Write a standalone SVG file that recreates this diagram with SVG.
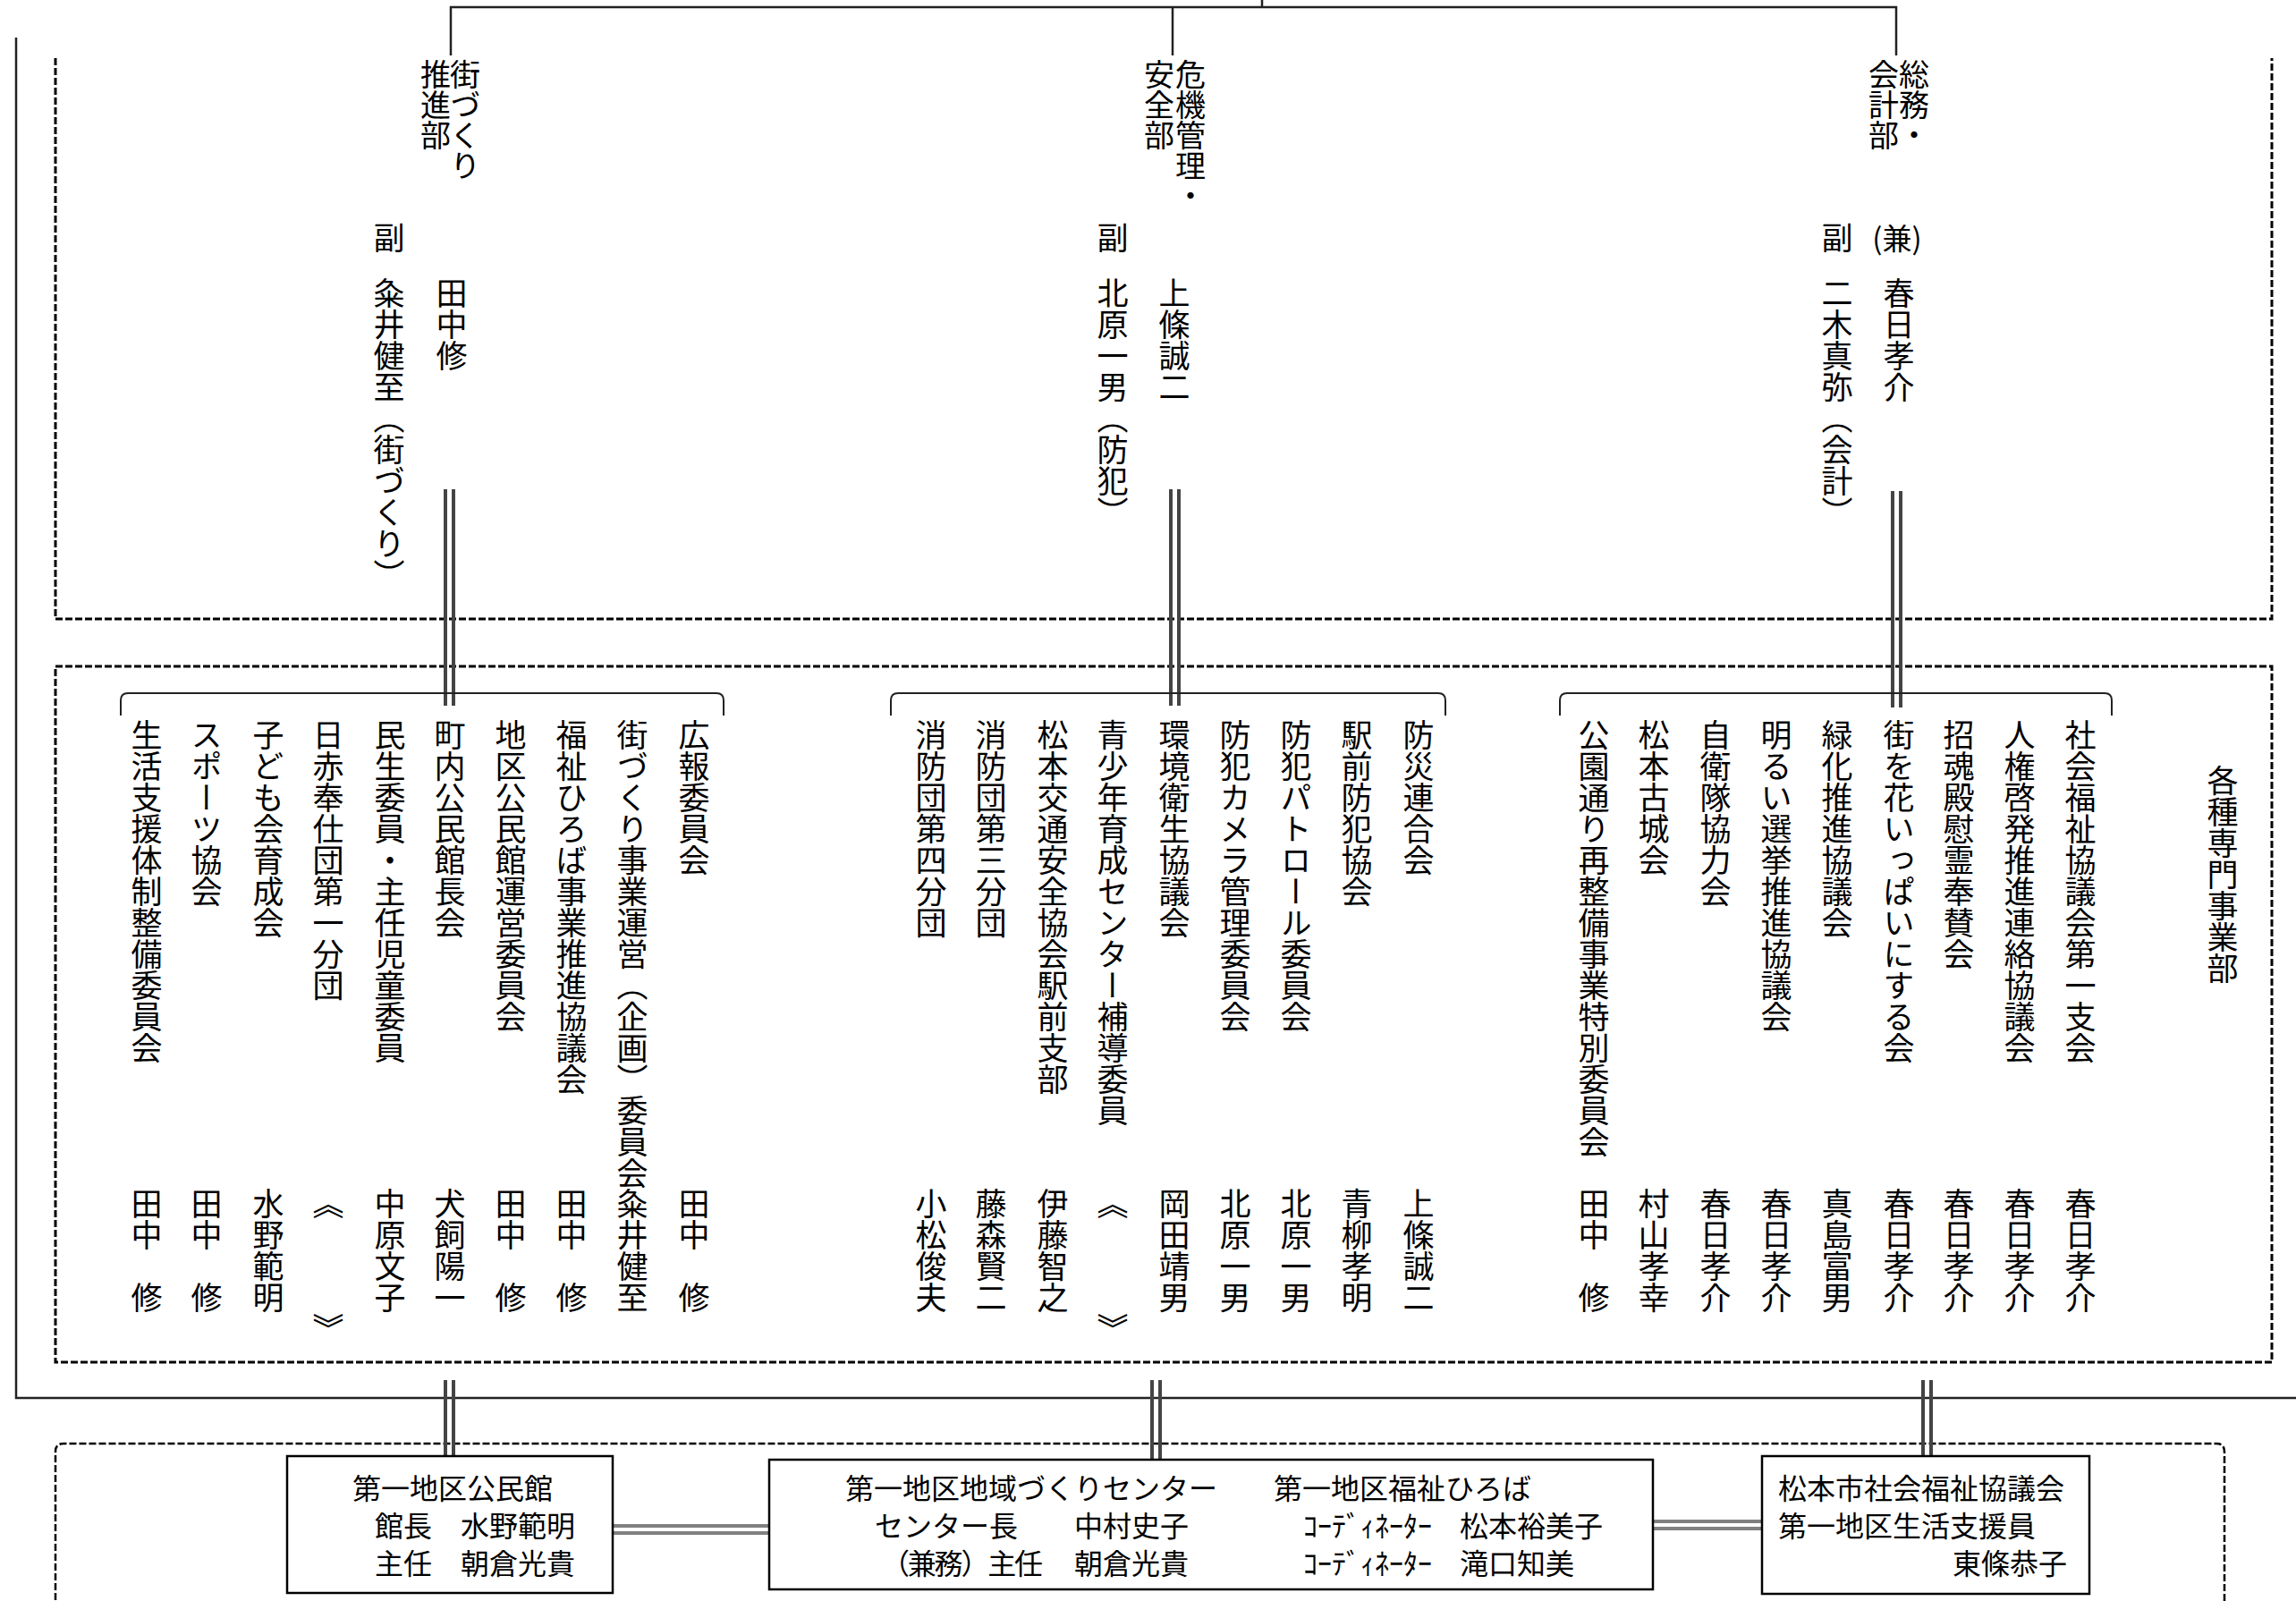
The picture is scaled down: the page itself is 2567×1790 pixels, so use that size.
<svg xmlns="http://www.w3.org/2000/svg" width="2567" height="1790" viewBox="0 0 2567 1790">
<style>
text { font-family: "Noto Sans CJK JP", "Noto Sans CJK SC", sans-serif; fill: #000; }
.v { font-size: 35px; writing-mode: vertical-rl; }
.hd { font-size: 34px; writing-mode: vertical-rl; }
.h { font-size: 32px; }
.dash { fill: none; stroke: #000; stroke-width: 3; stroke-dasharray: 8 3; }
.dash2 { fill: none; stroke: #000; stroke-width: 2.5; stroke-dasharray: 8 3; }
.ln { fill: none; stroke: #222; stroke-width: 2.5; }
.br { fill: none; stroke: #222; stroke-width: 2; }
.dbl { stroke: #444; stroke-width: 4; }
.hdbl { stroke: #808080; stroke-width: 4; }
.box { fill: #fff; stroke: #000; stroke-width: 2.5; }
</style>
<rect width="2567" height="1790" fill="#fff"/>

<g id="containers">
  <path class="dash" d="M62,65 V692 H2540 V65"/>
  <rect class="dash" x="62" y="745" width="2478" height="778"/>
  <path class="dash2" d="M62,1800 V1623 Q62,1614 71,1614 H2478 Q2487,1614 2487,1623 V1800"/>
</g>

<g id="connectors">
  <path class="ln" d="M504,62 V8 H2120 V62"/>
  <line class="ln" x1="1411" y1="0" x2="1411" y2="8"/>
  <line class="ln" x1="1311" y1="8" x2="1311" y2="62"/>
  <path class="ln" d="M18,42 V1563 H2567"/>
  <!-- upper double lines -->
  <line class="dbl" x1="498" y1="547" x2="498" y2="789"/>
  <line class="dbl" x1="507" y1="547" x2="507" y2="789"/>
  <line class="dbl" x1="1309" y1="547" x2="1309" y2="789"/>
  <line class="dbl" x1="1318" y1="547" x2="1318" y2="789"/>
  <line class="dbl" x1="2116" y1="549" x2="2116" y2="791"/>
  <line class="dbl" x1="2125" y1="549" x2="2125" y2="791"/>
  <!-- lower double lines -->
  <line class="dbl" x1="498" y1="1543" x2="498" y2="1641"/>
  <line class="dbl" x1="507" y1="1543" x2="507" y2="1641"/>
  <line class="dbl" x1="1288" y1="1543" x2="1288" y2="1648"/>
  <line class="dbl" x1="1297" y1="1543" x2="1297" y2="1648"/>
  <line class="dbl" x1="2150" y1="1543" x2="2150" y2="1644"/>
  <line class="dbl" x1="2159" y1="1543" x2="2159" y2="1644"/>
  <!-- horizontal double connectors -->
  <line class="hdbl" x1="686" y1="1706" x2="860" y2="1706"/>
  <line class="hdbl" x1="686" y1="1714" x2="860" y2="1714"/>
  <line class="hdbl" x1="1848" y1="1701" x2="1970" y2="1701"/>
  <line class="hdbl" x1="1848" y1="1709" x2="1970" y2="1709"/>
  <!-- list brackets -->
  <path class="br" d="M135,800 V783 Q135,775 143,775 H801 Q809,775 809,783 V800"/>
  <path class="br" d="M996,800 V783 Q996,775 1004,775 H1608 Q1616,775 1616,783 V800"/>
  <path class="br" d="M1744,800 V783 Q1744,775 1752,775 H2353 Q2361,775 2361,783 V800"/>
</g>

<g id="dept-machizukuri">
  <text class="hd" x="520" y="66">街づくり</text>
  <text class="hd" x="487" y="66">推進部</text>
  <text class="v" x="435" y="248">副</text>
  <text class="v" x="505" y="310">田中修</text>
  <text class="v" x="435" y="310">粂井健至（街づくり）</text>
</g>
<g id="dept-kiki">
  <text class="hd" x="1331" y="66">危機管理・</text>
  <text class="hd" x="1296" y="66">安全部</text>
  <text class="v" x="1244" y="248">副</text>
  <text class="v" x="1313" y="310">上條誠二</text>
  <text class="v" x="1244" y="310">北原一男（防犯）</text>
</g>
<g id="dept-somu">
  <text class="hd" x="2140" y="66">総務・</text>
  <text class="hd" x="2106" y="66">会計部</text>
  <text class="v" x="2054" y="248">副</text>
  <text class="h" x="2121" y="279" text-anchor="middle" style="font-size:33px">(兼)</text>
  <text class="v" x="2123" y="310">春日孝介</text>
  <text class="v" x="2054" y="310">二木真弥（会計）</text>
</g>

<g id="label-kakushu">
  <text class="v" x="2485" y="855">各種専門事業部</text>
</g>

<g id="group-a">
  <g id="a1"><text class="v" x="776" y="804">広報委員会</text><text class="v" x="776" y="1328">田中　修</text></g>
  <g id="a2"><text class="v" x="707" y="804">街づくり事業運営（企画）委員会</text><text class="v" x="707" y="1328">粂井健至</text></g>
  <g id="a3"><text class="v" x="639" y="804">福祉ひろば事業推進協議会</text><text class="v" x="639" y="1328">田中　修</text></g>
  <g id="a4"><text class="v" x="571" y="804">地区公民館運営委員会</text><text class="v" x="571" y="1328">田中　修</text></g>
  <g id="a5"><text class="v" x="503" y="804">町内公民館長会</text><text class="v" x="503" y="1328">犬飼陽一</text></g>
  <g id="a6"><text class="v" x="436" y="804">民生委員・主任児童委員</text><text class="v" x="436" y="1328">中原文子</text></g>
  <g id="a7"><text class="v" x="367" y="804">日赤奉仕団第一分団</text><text class="v" x="367" y="1328">《　　　》</text></g>
  <g id="a8"><text class="v" x="300" y="804">子ども会育成会</text><text class="v" x="300" y="1328">水野範明</text></g>
  <g id="a9"><text class="v" x="231" y="804">スポーツ協会</text><text class="v" x="231" y="1328">田中　修</text></g>
  <g id="a10"><text class="v" x="164" y="804">生活支援体制整備委員会</text><text class="v" x="164" y="1328">田中　修</text></g>
</g>

<g id="group-b">
  <g id="b1"><text class="v" x="1586" y="804">防災連合会</text><text class="v" x="1586" y="1328">上條誠二</text></g>
  <g id="b2"><text class="v" x="1517" y="804">駅前防犯協会</text><text class="v" x="1517" y="1328">青柳孝明</text></g>
  <g id="b3"><text class="v" x="1449" y="804">防犯パトロール委員会</text><text class="v" x="1449" y="1328">北原一男</text></g>
  <g id="b4"><text class="v" x="1381" y="804">防犯カメラ管理委員会</text><text class="v" x="1381" y="1328">北原一男</text></g>
  <g id="b5"><text class="v" x="1313" y="804">環境衛生協議会</text><text class="v" x="1313" y="1328">岡田靖男</text></g>
  <g id="b6"><text class="v" x="1244" y="804">青少年育成センター補導委員</text><text class="v" x="1244" y="1328">《　　　》</text></g>
  <g id="b7"><text class="v" x="1177" y="804">松本交通安全協会駅前支部</text><text class="v" x="1177" y="1328">伊藤智之</text></g>
  <g id="b8"><text class="v" x="1108" y="804">消防団第三分団</text><text class="v" x="1108" y="1328">藤森賢二</text></g>
  <g id="b9"><text class="v" x="1041" y="804">消防団第四分団</text><text class="v" x="1041" y="1328">小松俊夫</text></g>
</g>

<g id="group-c">
  <g id="c1"><text class="v" x="2326" y="804">社会福祉協議会第一支会</text><text class="v" x="2326" y="1328">春日孝介</text></g>
  <g id="c2"><text class="v" x="2258" y="804">人権啓発推進連絡協議会</text><text class="v" x="2258" y="1328">春日孝介</text></g>
  <g id="c3"><text class="v" x="2190" y="804">招魂殿慰霊奉賛会</text><text class="v" x="2190" y="1328">春日孝介</text></g>
  <g id="c4"><text class="v" x="2123" y="804">街を花いっぱいにする会</text><text class="v" x="2123" y="1328">春日孝介</text></g>
  <g id="c5"><text class="v" x="2054" y="804">緑化推進協議会</text><text class="v" x="2054" y="1328">真島富男</text></g>
  <g id="c6"><text class="v" x="1986" y="804">明るい選挙推進協議会</text><text class="v" x="1986" y="1328">春日孝介</text></g>
  <g id="c7"><text class="v" x="1918" y="804">自衛隊協力会</text><text class="v" x="1918" y="1328">春日孝介</text></g>
  <g id="c8"><text class="v" x="1849" y="804">松本古城会</text><text class="v" x="1849" y="1328">村山孝幸</text></g>
  <g id="c9"><text class="v" x="1782" y="804">公園通り再整備事業特別委員会</text><text class="v" x="1782" y="1328">田中　修</text></g>
</g>

<g id="box-kominkan">
  <rect class="box" x="321" y="1628" width="364" height="153"/>
  <text class="h" x="394" y="1676">第一地区公民館</text>
  <text class="h" x="419" y="1718">館長　水野範明</text>
  <text class="h" x="419" y="1760">主任　朝倉光貴</text>
</g>
<g id="box-center">
  <rect class="box" x="860" y="1632" width="988" height="145"/>
  <text class="h" x="945" y="1676">第一地区地域づくりセンター</text>
  <text class="h" x="1424" y="1676">第一地区福祉ひろば</text>
  <text class="h" x="978" y="1718">センター長</text>
  <text class="h" x="1201" y="1718">中村史子</text>
  <text class="h" x="1457" y="1718">ｺｰﾃﾞｨﾈｰﾀｰ</text>
  <text class="h" x="1632" y="1718">松本裕美子</text>
  <text class="h" x="985" y="1760" textLength="181" lengthAdjust="spacing">（兼務）主任</text>
  <text class="h" x="1201" y="1760">朝倉光貴</text>
  <text class="h" x="1457" y="1760">ｺｰﾃﾞｨﾈｰﾀｰ</text>
  <text class="h" x="1632" y="1760">滝口知美</text>
</g>
<g id="box-shakyo">
  <rect class="box" x="1970" y="1628" width="366" height="154"/>
  <text class="h" x="1988" y="1676">松本市社会福祉協議会</text>
  <text class="h" x="1988" y="1718">第一地区生活支援員</text>
  <text class="h" x="2183" y="1760">東條恭子</text>
</g>
</svg>
